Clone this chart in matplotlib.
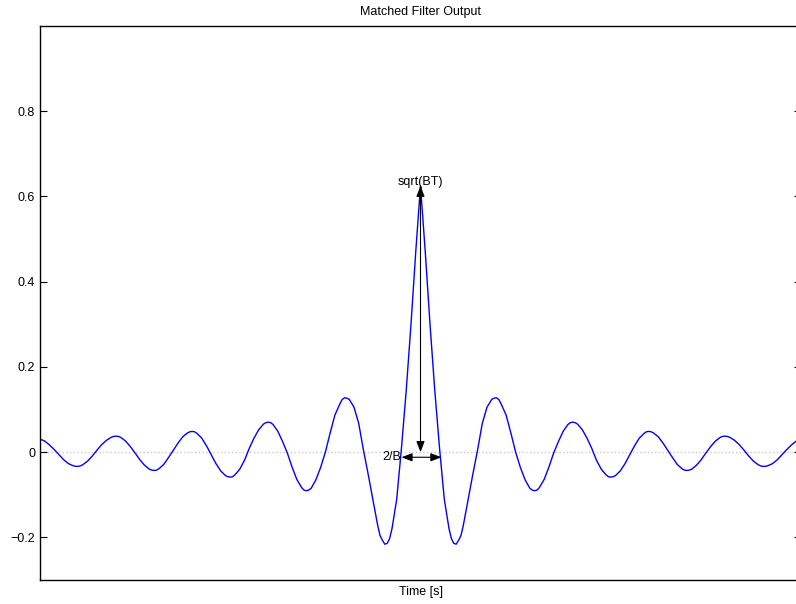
import matplotlib
matplotlib.use("Agg")
import matplotlib.pyplot as plt

plt.rcParams['font.family'] = ['Liberation Sans', 'DejaVu Sans']

# tiempo (1/B = 1) y salida del filtro
t_izq = [-20.0, -19.875, -19.75, -19.5, -19.25, -19.0, -18.75, -18.5, -18.25, -18.125,
         -18.0, -17.875, -17.75, -17.5, -17.25, -17.0, -16.75, -16.5, -16.25, -16.125,
         -16.0, -15.875, -15.75, -15.5, -15.25, -15.0, -14.75, -14.5, -14.25, -14.125,
         -14.0, -13.875, -13.75, -13.5, -13.25, -13.0, -12.75, -12.5, -12.25, -12.125,
         -12.0, -11.875, -11.75, -11.5, -11.25, -11.0, -10.75, -10.5, -10.25, -10.125,
         -10.0, -9.875, -9.75, -9.5, -9.25, -9.0, -8.75, -8.5, -8.25, -8.125,
         -8.0, -7.875, -7.75, -7.5, -7.25, -7.0, -6.75, -6.5, -6.25, -6.125,
         -6.0, -5.875, -5.75, -5.5, -5.25, -5.0, -4.75, -4.5, -4.25, -4.125,
         -4.0, -3.875, -3.75, -3.5, -3.25, -3.0, -2.75, -2.5, -2.25, -2.125,
         -2.0, -1.875, -1.75, -1.625, -1.5, -1.25, -1.0, -0.75, -0.5, -0.25]
y_izq = [0.030, 0.0285, 0.026, 0.017, 0.006, -0.006, -0.018, -0.027, -0.032, -0.0333,
         -0.0334, -0.0322, -0.0295, -0.021, -0.009, 0.005, 0.018, 0.028, 0.035, 0.0369,
         0.0376, 0.0369, 0.0345, 0.026, 0.013, -0.002, -0.018, -0.031, -0.040, -0.0422,
         -0.043, -0.0422, -0.039, -0.029, -0.013, 0.004, 0.021, 0.036, 0.045, 0.0478,
         0.0486, 0.0478, 0.044, 0.033, 0.015, -0.006, -0.027, -0.044, -0.055, -0.0576,
         -0.0586, -0.0576, -0.053, -0.040, -0.019, 0.009, 0.033, 0.053, 0.066, 0.0692,
         0.0704, 0.0692, 0.065, 0.049, 0.025, -0.002, -0.035, -0.064, -0.083, -0.089,
         -0.0905, -0.089, -0.085, -0.065, -0.036, 0.0, 0.045, 0.087, 0.112, 0.123,
         0.1275, 0.1268, 0.124, 0.106, 0.068, 0.005, -0.052, -0.112, -0.172, -0.196,
         -0.207, -0.216, -0.214, -0.203, -0.18, -0.11, 0.01, 0.145, 0.30, 0.47]

t_der = [0.0, 0.25, 0.5, 0.75, 1.0, 1.25, 1.5, 1.625, 1.75, 1.875,
         2.0, 2.125, 2.25, 2.5, 2.75, 3.0, 3.25, 3.5, 3.75, 3.875,
         4.0, 4.125, 4.25, 4.5, 4.75, 5.0, 5.25, 5.5, 5.75, 5.875,
         6.0, 6.125, 6.25, 6.5, 6.75, 7.0, 7.25, 7.5, 7.75, 7.875,
         8.0, 8.125, 8.25, 8.5, 8.75, 9.0, 9.25, 9.5, 9.75, 9.875,
         10.0, 10.125, 10.25, 10.5, 10.75, 11.0, 11.25, 11.5, 11.75, 11.875,
         12.0, 12.125, 12.25, 12.5, 12.75, 13.0, 13.25, 13.5, 13.75, 13.875,
         14.0, 14.125, 14.25, 14.5, 14.75, 15.0, 15.25, 15.5, 15.75, 15.875,
         16.0, 16.125, 16.25, 16.5, 16.75, 17.0, 17.25, 17.5, 17.75, 17.875,
         18.0, 18.125, 18.25, 18.5, 18.75, 19.0, 19.25, 19.5, 19.75, 19.875,
         20.0]
y_der = [0.625, 0.47, 0.30, 0.145, 0.01, -0.11, -0.18, -0.203, -0.214, -0.216,
         -0.207, -0.196, -0.172, -0.112, -0.052, 0.005, 0.068, 0.106, 0.124, 0.1268,
         0.1275, 0.123, 0.112, 0.087, 0.045, 0.0, -0.036, -0.065, -0.085, -0.089,
         -0.0905, -0.089, -0.083, -0.064, -0.035, -0.002, 0.025, 0.049, 0.065, 0.0692,
         0.0704, 0.0692, 0.066, 0.053, 0.033, 0.009, -0.019, -0.040, -0.053, -0.0576,
         -0.0586, -0.0576, -0.055, -0.044, -0.027, -0.006, 0.015, 0.033, 0.044, 0.0478,
         0.0486, 0.0478, 0.045, 0.036, 0.021, 0.004, -0.013, -0.029, -0.039, -0.0422,
         -0.043, -0.0422, -0.040, -0.031, -0.018, -0.002, 0.013, 0.026, 0.0345, 0.0369,
         0.0376, 0.0369, 0.035, 0.028, 0.018, 0.005, -0.009, -0.021, -0.0295, -0.0322,
         -0.0334, -0.0333, -0.032, -0.027, -0.018, -0.006, 0.006, 0.017, 0.026, 0.0285,
         0.030]

pico = 0.625          # sqrt(BT)
ancho = [-1.0, 1.1]   # 2/B
yticks = [-0.2, 0, 0.2, 0.4, 0.6, 0.8]
ylabels = ['\u22120.2', '0', '0.2', '0.4', '0.6', '0.8']

t = t_izq + t_der
salida = y_izq + y_der

fig = plt.figure(figsize=(7.96, 6.04), dpi=100)
ax = fig.add_axes([40 / 796, 24 / 604, 761 / 796, 554 / 604])

# linea de cero punteada y salida del filtro
ax.axhline(0, color='#c8c8dc', linestyle=':', linewidth=1.0, zorder=1)
ax.plot(t, salida, color='#0000ff', linewidth=1.0, zorder=2)

# flechas de anotacion
flecha = dict(arrowstyle='<|-|>,head_length=0.65,head_width=0.25', color='k',
              lw=0.8, shrinkA=0, shrinkB=0, mutation_scale=10)
ax.annotate('', xy=(0, pico), xytext=(0, 0), arrowprops=flecha, zorder=3)
ax.annotate('', xy=(ancho[0], -0.012), xytext=(ancho[1], -0.012), arrowprops=flecha, zorder=3)
ax.text(0, pico + 0.008, 'sqrt(BT)', ha='center', va='center', fontsize=9)
ax.text(ancho[0], -0.012, '2/B', ha='right', va='center', fontsize=9)

ax.set_xlim(-20, 20)
ax.set_ylim(-0.3, 1.0)
ax.set_xticks([])
ax.set_yticks(yticks)
ax.set_yticklabels(ylabels)
ax.tick_params(axis='y', direction='in', length=5, width=0.8, left=True, right=True,
               labelsize=9, pad=3.5)
for s in ax.spines.values():
    s.set_linewidth(1.0)
    s.set_color('k')

ax.set_title('Matched Filter Output', fontsize=9, pad=8)
ax.set_xlabel('Time [s]', fontsize=9, labelpad=4.5)

fig.savefig('out.png', dpi=100)
